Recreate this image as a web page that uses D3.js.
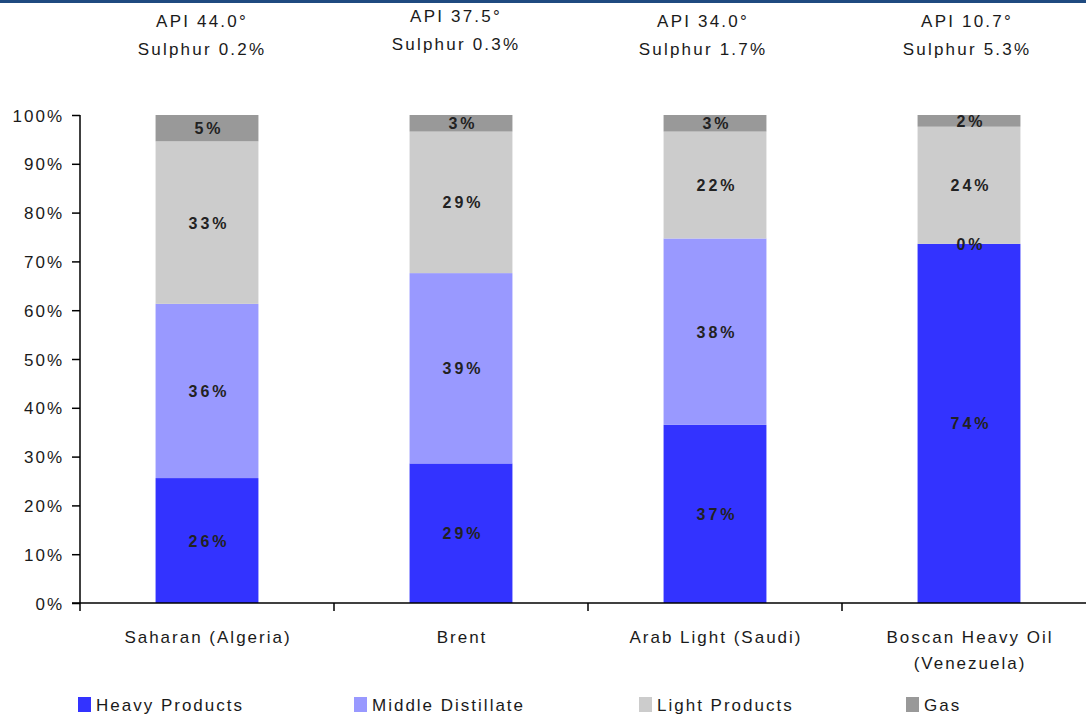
<!DOCTYPE html>
<html>
<head>
<meta charset="utf-8">
<script src="https://cdn.jsdelivr.net/npm/d3@7"></script>
<style>
  body { margin: 0; background: #fff; }
  #chart { width: 1086px; height: 715px; }
  text { font-family: "Liberation Sans", Arial, sans-serif; fill: #1a1a1a; }
</style>
</head>
<body>
<div id="chart"></div>
<script>
// crude oils, their quality notes and the product yields (% of barrel)
const crudes = ["Saharan (Algeria)", "Brent", "Arab Light (Saudi)", "Boscan Heavy Oil (Venezuela)"];
const crudeLines = [["Saharan (Algeria)"], ["Brent"], ["Arab Light (Saudi)"], ["Boscan Heavy Oil", "(Venezuela)"]];
const api = ["44.0", "37.5", "34.0", "10.7"];
const sulphur = ["0.2", "0.3", "1.7", "5.3"];

const series = ["Heavy Products", "Middle Distillate", "Light Products", "Gas"];
const heavy = [25.6, 28.6, 36.5, 73.6];
const middle = [35.7, 39.0, 38.2, 0];
const light = [33.3, 29.0, 21.9, 24.0];
const gas = [5.4, 3.4, 3.4, 2.4];
const yTicks = [0, 10, 20, 30, 40, 50, 60, 70, 80, 90, 100];

const colors = ["#3333ff", "#9999ff", "#cccccc", "#999999"];

const width = 1086, height = 715;
const svg = d3.select("#chart").append("svg")
    .attr("width", width)
    .attr("height", height);

// thin header band at the very top
svg.append("rect")
    .attr("x", 0).attr("y", 0)
    .attr("width", width).attr("height", 3)
    .attr("fill", "#1f4a80");

const rows = crudes.map((c, i) => ({
    crude: c,
    "Heavy Products": heavy[i],
    "Middle Distillate": middle[i],
    "Light Products": light[i],
    "Gas": gas[i]
}));

const stacked = d3.stack().keys(series)(rows);

const x = d3.scaleBand().domain(crudes).range([80, 1096]);
const y = d3.scaleLinear().domain([0, 100]).range([603, 115]);
const color = d3.scaleOrdinal().domain(series).range(colors);
const barW = x.bandwidth() * 0.405;
const mid = d => x(d) + x.bandwidth() / 2;

/* BARS */
svg.append("g")
    .selectAll("g")
    .data(stacked)
    .enter()
    .append("g")
    .attr("fill", d => color(d.key))
    .selectAll("rect")
    .data(d => d)
    .enter()
    .append("rect")
    .attr("x", d => mid(d.data.crude) - barW / 2)
    .attr("y", d => y(d[1]))
    .attr("width", barW)
    .attr("height", d => y(d[0]) - y(d[1]));

/* SEGMENT LABELS - drawn after all bars so none get covered */
svg.append("g")
    .selectAll("g")
    .data(stacked)
    .enter()
    .append("g")
    .selectAll("text")
    .data(d => d)
    .enter()
    .append("text")
    .attr("x", d => mid(d.data.crude) + 2)
    .attr("y", d => (y(d[0]) + y(d[1])) / 2 + 6)
    .attr("text-anchor", "middle")
    .style("font-size", "16px")
    .style("font-weight", "bold")
    .style("letter-spacing", "3px")
    .style("fill", "#222")
    .text(d => Math.round(d[1] - d[0]) + "%");

/* Y AXIS */
const yAxis = svg.append("g")
    .attr("transform", "translate(80,0)")
    .call(d3.axisLeft(y).tickValues(yTicks).tickSize(8).tickSizeOuter(0).tickFormat(d => d + "%"));
yAxis.select(".domain").remove();
yAxis.selectAll("line").attr("stroke", "#000").attr("stroke-width", 1.5);
yAxis.selectAll("text")
    .attr("x", -16)
    .attr("dy", "0.36em")
    .style("font-size", "17px")
    .style("letter-spacing", "2px")
    .style("font-family", "Liberation Sans, Arial, sans-serif")
    .style("fill", "#1a1a1a");

svg.append("line")
    .attr("x1", 80).attr("x2", 80)
    .attr("y1", y(100)).attr("y2", 611)
    .attr("stroke", "#000").attr("stroke-width", 1.5);

/* X AXIS */
svg.append("line")
    .attr("x1", 72).attr("x2", width)
    .attr("y1", y(0)).attr("y2", y(0))
    .attr("stroke", "#000").attr("stroke-width", 1.5);

svg.append("g")
    .selectAll("line")
    .data(crudes.slice(1))
    .enter()
    .append("line")
    .attr("x1", d => x(d)).attr("x2", d => x(d))
    .attr("y1", y(0)).attr("y2", 611)
    .attr("stroke", "#000").attr("stroke-width", 1.5);

const xLabels = svg.append("g")
    .selectAll("text")
    .data(crudes)
    .enter()
    .append("text")
    .attr("text-anchor", "middle")
    .attr("x", d => mid(d) + 1)
    .attr("y", 643)
    .style("font-size", "17px")
    .style("letter-spacing", "2px");

xLabels.selectAll("tspan")
    .data((d, i) => crudeLines[i])
    .enter()
    .append("tspan")
    .attr("x", function () { return this.parentNode.getAttribute("x"); })
    .attr("dy", (d, i) => i === 0 ? 0 : 26)
    .text(d => d);

/* TOP NOTES: API GRAVITY AND SULPHUR */
const noteShift = [-5, -5, -12, -2];
const noteLift = [0, -5, 0, 0];
const notes = svg.append("g")
    .selectAll("g")
    .data(crudes)
    .enter()
    .append("g")
    .attr("transform", (d, i) => "translate(" + (mid(d) + noteShift[i]) + "," + noteLift[i] + ")");

notes.append("text")
    .attr("text-anchor", "middle")
    .attr("y", 27)
    .style("font-size", "17px")
    .style("letter-spacing", "2.2px")
    .text((d, i) => "API " + api[i] + "°");

notes.append("text")
    .attr("text-anchor", "middle")
    .attr("y", 55)
    .style("font-size", "17px")
    .style("letter-spacing", "2.2px")
    .text((d, i) => "Sulphur " + sulphur[i] + "%");

/* LEGEND */
const legendX = [78, 354, 639, 906];
const legend = svg.append("g")
    .selectAll("g")
    .data(series)
    .enter()
    .append("g")
    .attr("transform", (d, i) => "translate(" + legendX[i] + ",697)");

legend.append("rect")
    .attr("width", 13)
    .attr("height", 15)
    .attr("fill", d => color(d));

legend.append("text")
    .attr("x", 18)
    .attr("y", 14)
    .style("font-size", "17px")
    .style("letter-spacing", "2px")
    .text(d => d);
</script>
</body>
</html>
